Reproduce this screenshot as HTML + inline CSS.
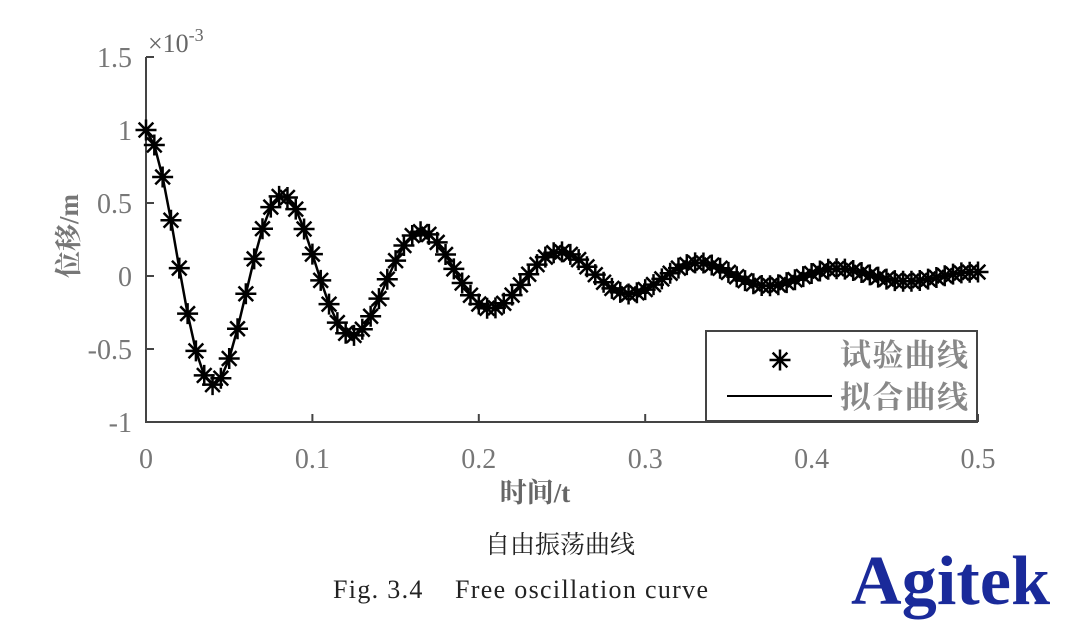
<!DOCTYPE html>
<html><head><meta charset="utf-8"><style>
body{margin:0;background:#fff;width:1071px;height:633px;overflow:hidden}
svg text{font-family:"Liberation Serif","Noto Serif CJK SC",serif}
</style></head><body>
<svg width="1071" height="633">
<g id="plot"></g>
<text x="148" y="52" font-size="26" fill="#666">×10<tspan dy="-11" font-size="18">-3</tspan></text>
<text transform="translate(78,236) rotate(-90)" text-anchor="middle" font-size="27" fill="#777" font-weight="bold">位移/m</text>
<text x="535" y="502" text-anchor="middle" font-size="27" fill="#666" font-weight="bold">时间/t</text>
<g>
<rect x="706" y="331" width="271" height="90" fill="#fff" stroke="#444" stroke-width="2"/>
<g id="legmark"></g>
<line x1="727" y1="396" x2="832" y2="396" stroke="#000" stroke-width="2"/>
<text x="840" y="366" font-size="31" fill="#888" font-weight="bold" textLength="128">试验曲线</text>
<text x="840" y="408" font-size="31" fill="#888" font-weight="bold" textLength="128">拟合曲线</text>
</g>
<text x="560" y="553" text-anchor="middle" font-size="25" fill="#222">自由振荡曲线</text>
<text x="333" y="598" font-size="26" fill="#222" xml:space="preserve" textLength="375">Fig. 3.4    Free oscillation curve</text>
<text x="851" y="604" font-size="70" fill="#1a2a9a" font-weight="bold" textLength="199">Agitek</text>
</svg>
<script>
const yTicks=[-1,-0.5,0,0.5,1,1.5];
const yTickLabels=["-1","-0.5","0","0.5","1","1.5"];
const xTicks=[0,0.1,0.2,0.3,0.4,0.5];
const xTickLabels=["0","0.1","0.2","0.3","0.4","0.5"];
const tStep=0.005;
const disp=[1.000,.897,.678,.382,.054,-.258,-.513,-.681,-.744,-.700,-.565,-.361,-.122,.117,.324,.472,.545,.538,.458,.322,.150,-.030,-.193,-.319,-.392,-.407,-.365,-.276,-.155,-.022,.105,.209,.277,.303,.285,.230,.147,.049,-.048,-.132,-.192,-.221,-.218,-.187,-.131,-.061,.012,.078,.129,.159,.165,.148,.112,.063,.009,-.043,-.085,-.112,-.123,-.115,-.093,-.059,-.020,.019,.054,.078,.090,.089,.075,.053,.025,-.005,-.032,-.053,-.065,-.067,-.060,-.045,-.026,-.004,.017,.034,.046,.050,.047,.038,.024,.008,-.008,-.021,-.032,-.036,-.036,-.031,-.021,-.010,.002,.013,.021,.026,.027];
const X=v=>146+v/0.5*832;
const Y=v=>276-v*146;
const NS='http://www.w3.org/2000/svg';
const g=document.getElementById('plot');
function mk(t,a,p){const e=document.createElementNS(NS,t);for(const k in a)e.setAttribute(k,a[k]);(p||g).appendChild(e);return e;}
let ax=mk('path',{d:`M${X(0)},${Y(1.5)}V${Y(-1)}H${X(0.5)}`,fill:'none',stroke:'#444','stroke-width':2});


yTicks.forEach((v,i)=>{
 mk('line',{x1:X(0),x2:X(0)+8,y1:Y(v),y2:Y(v),stroke:'#444','stroke-width':2});
 const t=mk('text',{x:X(0)-14,y:Y(v)+10,'text-anchor':'end','font-size':28,fill:'#777'});
 t.textContent=yTickLabels[i];
 
 
});
xTicks.forEach((v,i)=>{
 mk('line',{x1:X(v),x2:X(v),y1:Y(-1),y2:Y(-1)-8,stroke:'#444','stroke-width':2});
 const t=mk('text',{x:X(v),y:Y(-1)+46,'text-anchor':'middle','font-size':28,fill:'#777'});
 t.textContent=xTickLabels[i];
 
 
});
const line=mk('polyline',{points:disp.map((v,i)=>X(i*tStep)+','+Y(v)).join(' '),fill:'none',stroke:'#000','stroke-width':2.5});


function star(cx,cy,r,p){
 return mk('path',{d:`M${cx-r},${cy}H${cx+r}M${cx},${cy-r}V${cy+r}M${cx-r*.7},${cy-r*.7}L${cx+r*.7},${cy+r*.7}M${cx-r*.7},${cy+r*.7}L${cx+r*.7},${cy-r*.7}`,stroke:'#000','stroke-width':2.5,fill:'none'},p);
}
disp.forEach((v,i)=>{
 const s=star(X(i*tStep),Y(v),10.5);
 
 
});
star(780,360,10.5,document.getElementById('legmark'));
</script>
</body></html>
